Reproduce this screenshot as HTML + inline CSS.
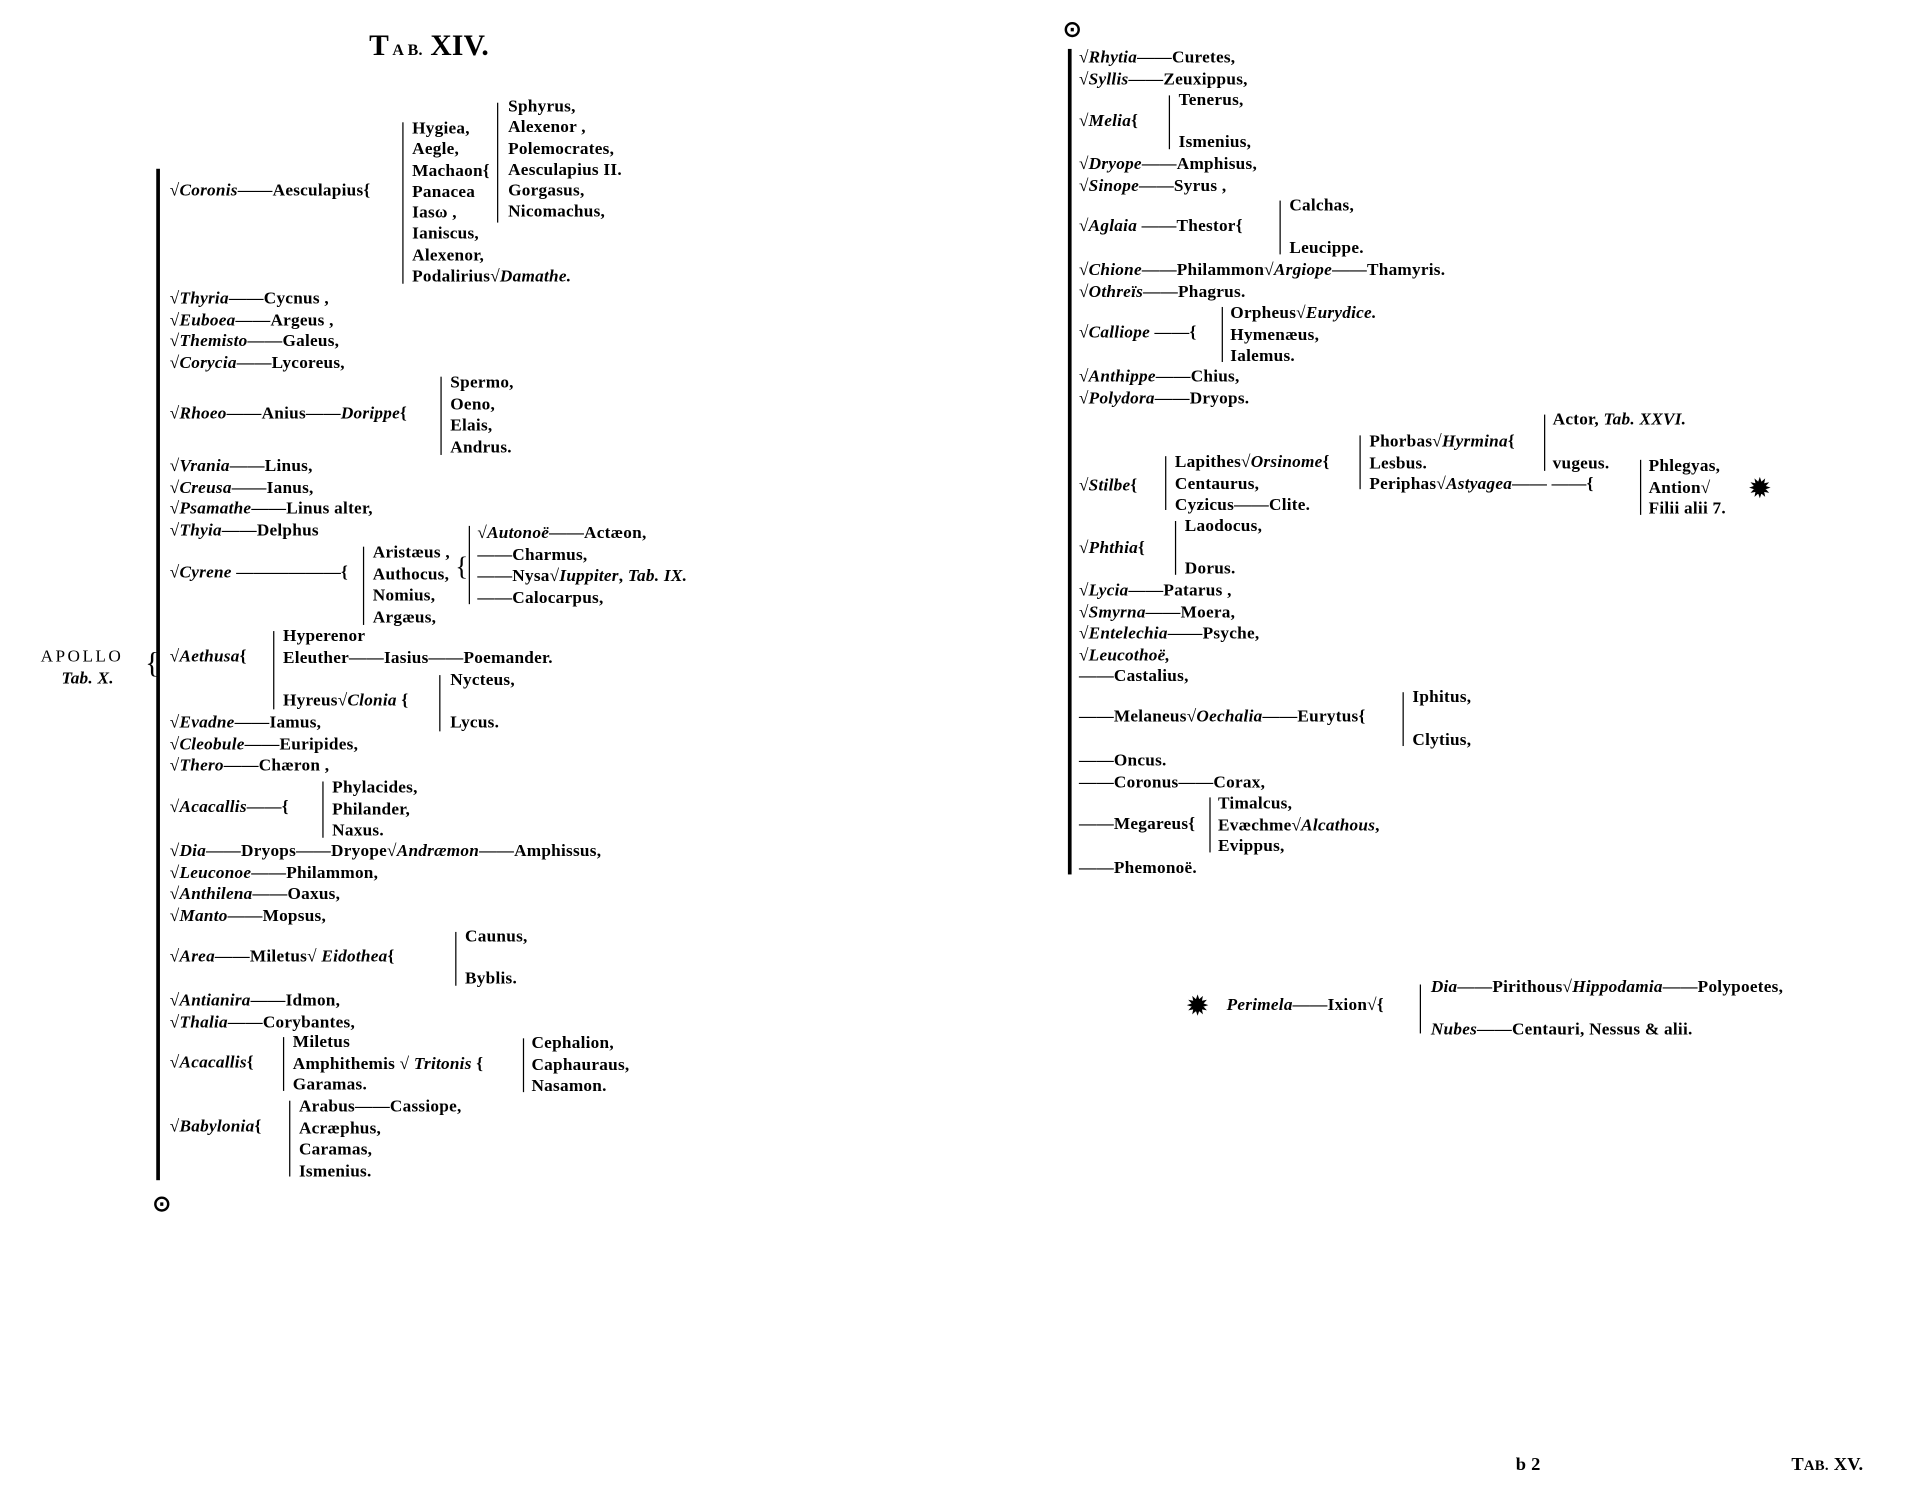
<!DOCTYPE html>
<html><head><meta charset="utf-8"><style>
html,body{margin:0;padding:0;background:#fff;width:1907px;height:1492px;overflow:hidden}
#w{position:absolute;left:0;top:0;width:1550px;height:1220px;transform-origin:0 0;transform:scale(1.2303,1.2230)}
.t{position:absolute;font-family:"Liberation Serif",serif;font-size:14px;letter-spacing:0.2px;line-height:16px;white-space:nowrap;color:#000;font-weight:bold}
.t i{font-style:italic}
.v{position:absolute;background:#000}
.b{position:absolute;border-left:1.6px solid #000}
</style></head><body><div id="w">
<div class="t" style="left:300px;top:24px;font-size:24px;line-height:28px">T<span style="font-size:13px"> A B.</span> XIV.</div>
<div class="v" style="left:127px;top:138px;width:3px;height:827px"></div>
<div class="t" style="left:124px;top:976px;font-size:18px">⊙</div>
<div class="t" style="left:33px;top:530px;letter-spacing:2px;font-weight:normal">APOLLO</div>
<div class="t" style="left:50px;top:548px"><i>Tab. X.</i></div>
<div class="t" style="left:118px;top:535px;font-size:24px;font-weight:normal">{</div>
<div class="t" style="left:138px;top:149px">√<i>Coronis</i>——Aesculapius{</div>
<div class="b" style="left:327px;top:100px;height:132px"></div>
<div class="t" style="left:335px;top:97px;line-height:17.3px">Hygiea,<br>Aegle,<br>Machaon{<br>Panacea<br>Iasω ,<br>Ianiscus,<br>Alexenor,<br>Podalirius√<i>Damathe.</i></div>
<div class="b" style="left:404px;top:84px;height:98px"></div>
<div class="t" style="left:413px;top:79px;line-height:17.3px">Sphyrus,<br>Alexenor ,<br>Polemocrates,<br>Aesculapius II.<br>Gorgasus,<br>Nicomachus,</div>
<div class="t" style="left:138px;top:236px;line-height:17.5px">√<i>Thyria</i>——Cycnus ,<br>√<i>Euboea</i>——Argeus ,<br>√<i>Themisto</i>——Galeus,<br>√<i>Corycia</i>——Lycoreus,</div>
<div class="t" style="left:138px;top:331px">√<i>Rhoeo</i>——Anius——<i>Dorippe</i>{</div>
<div class="b" style="left:358px;top:308px;height:64px"></div>
<div class="t" style="left:366px;top:305px;line-height:17.5px">Spermo,<br>Oeno,<br>Elais,<br>Andrus.</div>
<div class="t" style="left:138px;top:373px;line-height:17.5px">√<i>Vrania</i>——Linus,<br>√<i>Creusa</i>——Ianus,<br>√<i>Psamathe</i>——Linus alter,<br>√<i>Thyia</i>——Delphus</div>
<div class="t" style="left:138px;top:461px">√<i>Cyrene</i> ——————{</div>
<div class="b" style="left:295px;top:447px;height:64px"></div>
<div class="t" style="left:303px;top:444px;line-height:17.5px">Aristæus ,<br>Authocus,<br>Nomius,<br>Argæus,</div>
<div class="t" style="left:370px;top:455px;font-size:22px;font-weight:normal">{</div>
<div class="b" style="left:381px;top:430px;height:64px"></div>
<div class="t" style="left:388px;top:428px;line-height:17.7px">√<i>Autonoë</i>——Actæon,<br>——Charmus,<br>——Nysa√<i>Iuppiter</i>, <i>Tab. IX.</i><br>——Calocarpus,</div>
<div class="t" style="left:138px;top:530px">√<i>Aethusa</i>{</div>
<div class="b" style="left:222px;top:516px;height:64px"></div>
<div class="t" style="left:230px;top:513px">Hyperenor</div>
<div class="t" style="left:230px;top:531px">Eleuther——Iasius——Poemander.</div>
<div class="t" style="left:230px;top:566px">Hyreus√<i>Clonia</i> {</div>
<div class="b" style="left:357px;top:552px;height:46px"></div>
<div class="t" style="left:366px;top:549px">Nycteus,</div>
<div class="t" style="left:366px;top:584px">Lycus.</div>
<div class="t" style="left:138px;top:583px;line-height:17.5px">√<i>Evadne</i>——Iamus,<br>√<i>Cleobule</i>——Euripides,<br>√<i>Thero</i>——Chæron ,</div>
<div class="t" style="left:138px;top:653px">√<i>Acacallis</i>——{</div>
<div class="b" style="left:262px;top:639px;height:46px"></div>
<div class="t" style="left:270px;top:636px;line-height:17.5px">Phylacides,<br>Philander,<br>Naxus.</div>
<div class="t" style="left:138px;top:688px;line-height:17.5px">√<i>Dia</i>——Dryops——Dryope√<i>Andræmon</i>——Amphissus,<br>√<i>Leuconoe</i>——Philammon,<br>√<i>Anthilena</i>——Oaxus,<br>√<i>Manto</i>——Mopsus,</div>
<div class="t" style="left:138px;top:775px">√<i>Area</i>——Miletus√ <i>Eidothea</i>{</div>
<div class="b" style="left:370px;top:762px;height:44px"></div>
<div class="t" style="left:378px;top:759px">Caunus,</div>
<div class="t" style="left:378px;top:793px">Byblis.</div>
<div class="t" style="left:138px;top:810px;line-height:17.5px">√<i>Antianira</i>——Idmon,<br>√<i>Thalia</i>——Corybantes,</div>
<div class="t" style="left:138px;top:862px">√<i>Acacallis</i>{</div>
<div class="b" style="left:230px;top:848px;height:44px"></div>
<div class="t" style="left:238px;top:844px;line-height:17.5px">Miletus<br>Amphithemis √ <i>Tritonis</i> {<br>Garamas.</div>
<div class="b" style="left:425px;top:849px;height:44px"></div>
<div class="t" style="left:432px;top:845px;line-height:17.5px">Cephalion,<br>Caphauraus,<br>Nasamon.</div>
<div class="t" style="left:138px;top:914px">√<i>Babylonia</i>{</div>
<div class="b" style="left:235px;top:900px;height:62px"></div>
<div class="t" style="left:243px;top:897px;line-height:17.5px">Arabus——Cassiope,<br>Acræphus,<br>Caramas,<br>Ismenius.</div>
<div class="t" style="left:864px;top:16px;font-size:18px">⊙</div>
<div class="v" style="left:868px;top:40px;width:3px;height:675px"></div>
<div class="t" style="left:877px;top:39px;line-height:17.5px">√<i>Rhytia</i>——Curetes,<br>√<i>Syllis</i>——Zeuxippus,</div>
<div class="t" style="left:877px;top:92px">√<i>Melia</i>{</div>
<div class="b" style="left:950px;top:78px;height:44px"></div>
<div class="t" style="left:958px;top:75px">Tenerus,</div>
<div class="t" style="left:958px;top:109px">Ismenius,</div>
<div class="t" style="left:877px;top:126px;line-height:17.5px">√<i>Dryope</i>——Amphisus,<br>√<i>Sinope</i>——Syrus ,</div>
<div class="t" style="left:877px;top:178px">√<i>Aglaia</i> ——Thestor{</div>
<div class="b" style="left:1040px;top:164px;height:44px"></div>
<div class="t" style="left:1048px;top:161px">Calchas,</div>
<div class="t" style="left:1048px;top:196px">Leucippe.</div>
<div class="t" style="left:877px;top:213px;line-height:17.5px">√<i>Chione</i>——Philammon√<i>Argiope</i>——Thamyris.<br>√<i>Othreïs</i>——Phagrus.</div>
<div class="t" style="left:877px;top:265px">√<i>Calliope</i> ——{</div>
<div class="b" style="left:993px;top:251px;height:45px"></div>
<div class="t" style="left:1000px;top:248px;line-height:17.5px">Orpheus√<i>Eurydice.</i><br>Hymenæus,<br>Ialemus.</div>
<div class="t" style="left:877px;top:300px;line-height:17.5px">√<i>Anthippe</i>——Chius,<br>√<i>Polydora</i>——Dryops.</div>
<div class="t" style="left:877px;top:390px">√<i>Stilbe</i>{</div>
<div class="b" style="left:947px;top:373px;height:44px"></div>
<div class="t" style="left:955px;top:370px;line-height:17.5px">Lapithes√<i>Orsinome</i>{<br>Centaurus,<br>Cyzicus——Clite.</div>
<div class="b" style="left:1105px;top:356px;height:44px"></div>
<div class="t" style="left:1113px;top:353px;line-height:17.5px">Phorbas√<i>Hyrmina</i>{<br>Lesbus.<br>Periphas√<i>Astyagea</i>—— ——{</div>
<div class="b" style="left:1255px;top:339px;height:46px"></div>
<div class="t" style="left:1262px;top:336px">Actor, <i>Tab. XXVI.</i></div>
<div class="t" style="left:1262px;top:372px">vugeus.</div>
<div class="b" style="left:1333px;top:376px;height:45px"></div>
<div class="t" style="left:1340px;top:373px;line-height:17.5px">Phlegyas,<br>Antion√<br>Filii alii 7.</div>
<div class="t" style="left:1422px;top:392px;font-size:20px">✹</div>
<div class="t" style="left:877px;top:441px">√<i>Phthia</i>{</div>
<div class="b" style="left:955px;top:426px;height:44px"></div>
<div class="t" style="left:963px;top:423px">Laodocus,</div>
<div class="t" style="left:963px;top:458px">Dorus.</div>
<div class="t" style="left:877px;top:475px;line-height:17.5px">√<i>Lycia</i>——Patarus ,<br>√<i>Smyrna</i>——Moera,<br>√<i>Entelechia</i>——Psyche,<br>√<i>Leucothoë,</i><br>——Castalius,</div>
<div class="t" style="left:877px;top:579px">——Melaneus√<i>Oechalia</i>——Eurytus{</div>
<div class="b" style="left:1140px;top:566px;height:44px"></div>
<div class="t" style="left:1148px;top:563px">Iphitus,</div>
<div class="t" style="left:1148px;top:598px">Clytius,</div>
<div class="t" style="left:877px;top:614px;line-height:17.5px">——Oncus.<br>——Coronus——Corax,</div>
<div class="t" style="left:877px;top:667px">——Megareus{</div>
<div class="b" style="left:983px;top:652px;height:45px"></div>
<div class="t" style="left:990px;top:649px;line-height:17.5px">Timalcus,<br>Evæchme√<i>Alcathous</i>,<br>Evippus,</div>
<div class="t" style="left:877px;top:703px">——Phemonoë.</div>
<div class="t" style="left:965px;top:815px;font-size:20px">✹</div>
<div class="t" style="left:997px;top:815px"><i>Perimela</i>——Ixion√{</div>
<div class="b" style="left:1154px;top:805px;height:40px"></div>
<div class="t" style="left:1163px;top:800px"><i>Dia</i>——Pirithous√<i>Hippodamia</i>——Polypoetes,</div>
<div class="t" style="left:1163px;top:835px"><i>Nubes</i>——Centauri, Nessus &amp; alii.</div>
<div class="t" style="left:1232px;top:1190px;font-size:15px">b 2</div>
<div class="t" style="left:1456px;top:1190px;font-size:15px">T<span style="font-size:12px">AB.</span> XV.</div>
</div></body></html>
